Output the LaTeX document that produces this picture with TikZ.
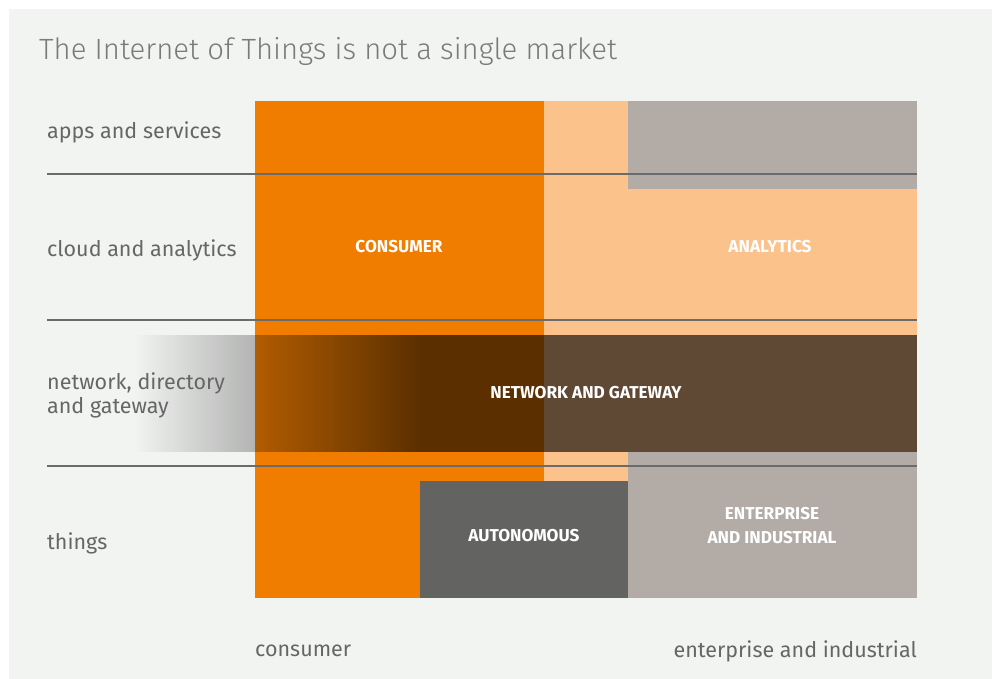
\documentclass[tikz,border=0pt]{standalone}
\usepackage{fontspec}
\setmainfont{Fira Sans}
\newfontfamily\lightfont{Fira Sans Light}
\usetikzlibrary{fadings}

\definecolor{bgC}{HTML}{F2F4F2}
\definecolor{orangeC}{HTML}{F07D00}
\definecolor{peachC}{HTML}{FBC28B}
\definecolor{taupeC}{HTML}{B2ABA6}
\definecolor{slateC}{HTML}{636361}
\definecolor{lineC}{HTML}{6B6B6B}
\definecolor{textC}{HTML}{666666}
\definecolor{titleC}{HTML}{7A7A7A}

\tikzfading[name=fade in right, left color=transparent!100, right color=transparent!0]

\tikzset{
  layer/.style={anchor=west, align=left, text=textC, inner sep=0pt,
    font=\fontsize{21.5}{24}\selectfont},
  tag/.style={align=center, text=white, inner sep=0pt,
    font=\bfseries\fontsize{17.2}{24}\selectfont},
  axis/.style={text=textC, inner sep=0pt, font=\fontsize{21.5}{24}\selectfont}
}

\begin{document}
\begin{tikzpicture}[x=1pt, y=-1pt]
  \useasboundingbox (0,0) rectangle (992,679);
  \fill[bgC] (9,9) rectangle (992,679);

  % title
  \node[anchor=west, inner sep=0pt, text=titleC, font=\lightfont\fontsize{29.3}{32}\selectfont]
    (title) at (39,51) {The Internet of Things is not a single market};

  % market blocks
  \fill[peachC]  (544,101) rectangle (917,598);
  \fill[orangeC] (255,101) rectangle (544,598);
  \fill[taupeC]  (628,101) rectangle (917,189);
  \fill[taupeC]  (628,452) rectangle (917,598);
  \fill[slateC]  (420,481) rectangle (628,598);

  % network band
  \fill[black, opacity=0.62, path fading=fade in right] (135,335) rectangle (420,452);
  \fill[black, opacity=0.62] (420,335) rectangle (917,452);

  % layer lines
  \foreach \y in {174,320,466}
      \draw[lineC, line width=2pt] (47,\y) -- (917,\y);

  % layers
  \foreach \t/\y [count=\i] in {apps and services/132, cloud and analytics/250,
      {network, directory\\and gateway}/395, things/543}
      \node[layer] (layer-\i) at (47,\y) {\t};

  % block labels
  \node[tag] (consumer)   at (399,247) {CONSUMER};
  \node[tag] (analytics)  at (770,247) {ANALYTICS};
  \node[tag] (network)    at (586,393) {NETWORK AND GATEWAY};
  \node[tag] (autonomous) at (524,536) {AUTONOMOUS};
  \node[tag] (enterprise) at (772,526) {ENTERPRISE\\AND INDUSTRIAL};

  % axis
  \node[axis, anchor=west] (axis-left)  at (255,651) {consumer};
  \node[axis, anchor=east] (axis-right) at (917,651) {enterprise and industrial};

\end{tikzpicture}
\end{document}
